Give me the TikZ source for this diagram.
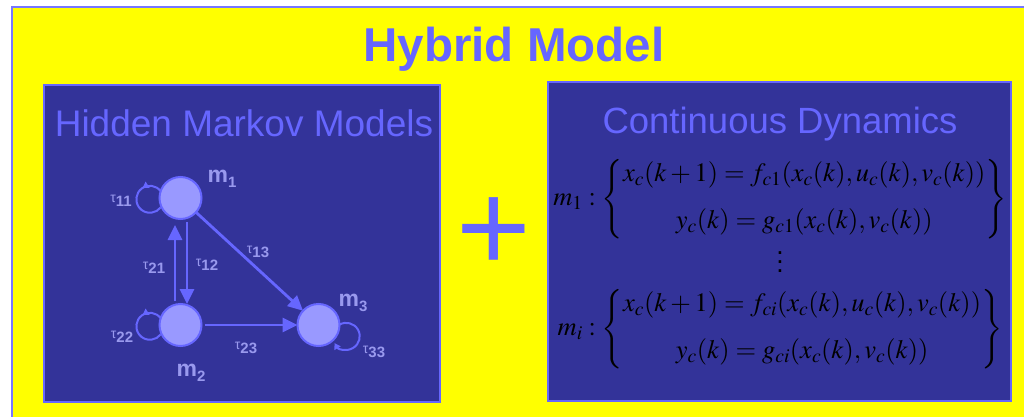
\documentclass[tikz,border=0pt]{standalone}
\usepackage{mathptmx}
\usepackage{fontspec}
\setmainfont{Liberation Sans}
\usetikzlibrary{arrows.meta,decorations.markings}
\definecolor{bgyellow}{HTML}{FFFF00}
\definecolor{framecol}{HTML}{7777FF}
\definecolor{panelfill}{HTML}{333399}
\definecolor{panelline}{HTML}{6666FF}
\definecolor{titleblue}{HTML}{6666FF}
\definecolor{nodefill}{HTML}{9999FF}
\definecolor{labelcol}{HTML}{9999EE}
\begin{document}
\begin{tikzpicture}[x=1pt,y=1pt,
  panel/.style={draw=panelline, line width=2pt, fill=panelfill},
  state/.style={circle, draw=panelline, line width=2pt, fill=nodefill, minimum size=42pt, inner sep=0pt, outer sep=0pt},
  trans/.style={draw=panelline, line width=2.8pt, -{Triangle[length=15pt,width=14pt]}},
  selfloop/.style={draw=panelline, line width=2pt},
  looptip/.style={postaction=decorate, decoration={markings, mark=at position 0.3 with {\arrow{Triangle[length=6pt,width=7pt]}}}},
  mlabel/.style={text=labelcol, font=\fontsize{23}{23}\selectfont\bfseries, inner sep=0pt},
  tlabel/.style={text=labelcol, inner sep=0pt},
  bigtitle/.style={text=titleblue, font=\fontsize{47.5}{47.5}\selectfont\bfseries, anchor=base},
  paneltitle/.style={text=titleblue, font=\fontsize{37}{37}\selectfont, anchor=base},
  eqn/.style={text=black, font=\fontsize{26.5}{30}\selectfont, inner sep=0pt}
]
\useasboundingbox (0,0) rectangle (1024,-417);
\clip (0,0) rectangle (1024,-417);
\fill[white] (0,0) rectangle (1024,-417);
\filldraw[fill=bgyellow, draw=framecol, line width=2pt] (12,-7) rectangle (1040,-430);

\node[bigtitle] (title) at (514,-62) {Hybrid Model};

\draw[panel] (44,-85) rectangle (440,-402);
\draw[panel] (548,-82.5) rectangle (1011,-401);

\node[paneltitle] (hmmtitle) at (244,-136) {Hidden Markov Models};
\node[paneltitle, font=\fontsize{36.5}{36.5}\selectfont] (cdtitle) at (780,-133) {Continuous Dynamics};

\node[text=titleblue, font=\fontsize{128}{128}\selectfont, anchor=base] (plus) at (494,-271) {+};

% states
\node[state] (m1) at (180.5,-198) {};
\node[state] (m2) at (180.5,-325) {};
\node[state] (m3) at (318.5,-325) {};

% self loops
\draw[selfloop, looptip] (m1.161) arc[start angle=37, end angle=323, radius=13.5];
\draw[selfloop, looptip] (m2.161) arc[start angle=37, end angle=323, radius=13.5];
\draw[selfloop, -{Triangle[length=6pt,width=7pt]}] (m3.1) arc[start angle=120, end angle=-150, radius=13.5];

% transitions
\draw[trans] ([xshift=6.5pt,yshift=-3pt]m1.south) -- ([xshift=6.5pt]m2.north);
\draw[trans] ([xshift=-5.5pt,yshift=3pt]m2.north) -- ([xshift=-5.5pt,yshift=-6pt]m1.south);
\draw[trans] (m1) -- (m3);
\draw[trans, shorten <=3pt] (m2) -- (m3);

% state labels
\node[mlabel] (l1) at (222,-179) {m\raisebox{-5pt}{\fontsize{15}{15}\selectfont 1}};
\node[mlabel] (l2) at (191,-373) {m\raisebox{-5pt}{\fontsize{15}{15}\selectfont 2}};
\node[mlabel] (l3) at (353,-303) {m\raisebox{-5pt}{\fontsize{15}{15}\selectfont 3}};

% transition labels
\newcommand{\tl}[1]{{\fontsize{14}{14}\selectfont τ}\raisebox{-4pt}{\fontsize{15}{15}\selectfont\bfseries #1}}
\node[tlabel] (t11) at (121,-201) {\tl{11}};
\node[tlabel] (t21) at (154,-268) {\tl{21}};
\node[tlabel] (t12) at (207,-265) {\tl{12}};
\node[tlabel] (t13) at (258,-252) {\tl{13}};
\node[tlabel] (t22) at (122,-337) {\tl{22}};
\node[tlabel] (t23) at (246,-348) {\tl{23}};
\node[tlabel] (t33) at (374,-352) {\tl{33}};

% equations
\node[eqn] (eq1) at (780,-199) {$m_1:\left\{\begin{array}{@{}c@{}} x_c(k+1)=f_{c1}(x_c(k),u_c(k),v_c(k)) \\[17pt] y_c(k)=g_{c1}(x_c(k),v_c(k))\end{array}\right\}$};
\node[eqn] (dots) at (780,-262) {$\vcenter{\baselineskip=9pt\lineskiplimit=0pt\hbox{.}\hbox{.}\hbox{.}}$};
\node[eqn] (eq2) at (780,-329) {$m_i:\left\{\begin{array}{@{}c@{}} x_c(k+1)=f_{ci}(x_c(k),u_c(k),v_c(k)) \\[17pt] y_c(k)=g_{ci}(x_c(k),v_c(k))\end{array}\right\}$};
\end{tikzpicture}
\end{document}
